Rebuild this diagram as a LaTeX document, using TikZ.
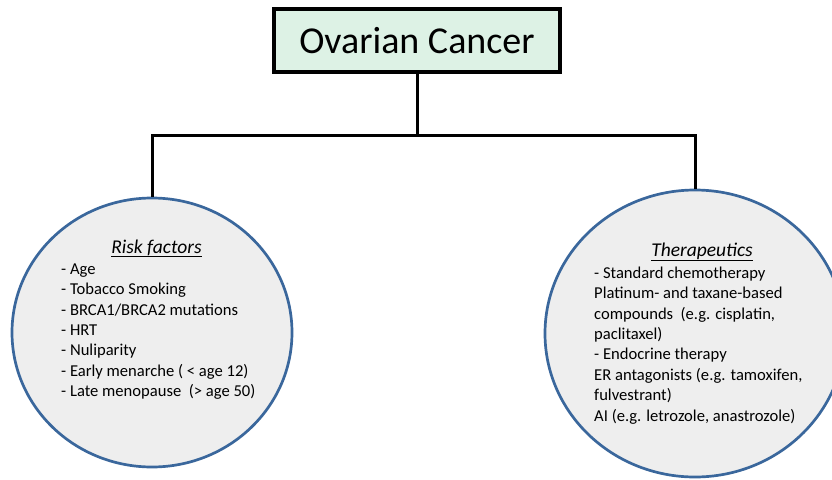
\documentclass[tikz,border=0pt]{standalone}
\usepackage{fontspec}
\setmainfont{Carlito}
\usetikzlibrary{shapes.geometric}
\definecolor{boxfill}{HTML}{DDF2E5}
\definecolor{circfill}{HTML}{EEEEEE}
\definecolor{circline}{HTML}{3A679C}
\tikzset{
  conn/.style={line width=3pt, black},
  topbox/.style={draw=black, line width=3.5pt, fill=boxfill, minimum width=286pt, minimum height=63pt, inner sep=0pt, font=\fontsize{38}{45}\selectfont},
  bubble/.style={ellipse, draw=circline, line width=2.7pt, fill=circfill, inner sep=0pt},
  listtext/.style={align=left, inner sep=0pt, anchor=north west, font=\fontsize{16.6}{20.4}\selectfont},
  titletext/.style={inner sep=0pt, anchor=base, font=\fontsize{19.5}{23}\selectfont\itshape}
}
\begin{document}
\begin{tikzpicture}[x=1pt,y=-1pt]
\useasboundingbox (0,0) rectangle (832,479);
\node[topbox] (oc) at (417,40.5) {Ovarian Cancer};
\node[bubble, minimum width=280pt, minimum height=269pt] (rf) at (152,332.5) {};
\node[bubble, minimum width=300pt, minimum height=287pt] (th) at (695,333.5) {};
\coordinate (j) at (417,135);
\coordinate (jl) at (152,135);
\coordinate (jr) at (695,135);
\draw[conn] (oc.south) -- (j);
\draw[conn, line cap=rect] (jl) -- (jr);
\draw[conn] (jl) -- (rf.north);
\draw[conn] (jr) -- (th.north);
\node[titletext] (rft) at (156.5,253) {\underline{Risk factors}};
\node[titletext] (tht) at (702,256) {\underline{Therapeutics}};
\node[listtext] (rfl) at (61,263.5) {- Age\\- Tobacco Smoking\\- BRCA1/BRCA2 mutations\\- HRT\\- Nuliparity\\- Early menarche ( < age 12)\\- Late menopause~ (> age 50)};
\node[listtext] (thl) at (594,266.5) {- Standard chemotherapy\\Platinum- and taxane-based\\compounds~ (e.g. cisplatin,\\paclitaxel)\\- Endocrine therapy\\ER antagonists (e.g. tamoxifen,\\fulvestrant)\\AI (e.g. letrozole, anastrozole)};
\end{tikzpicture}
\end{document}
